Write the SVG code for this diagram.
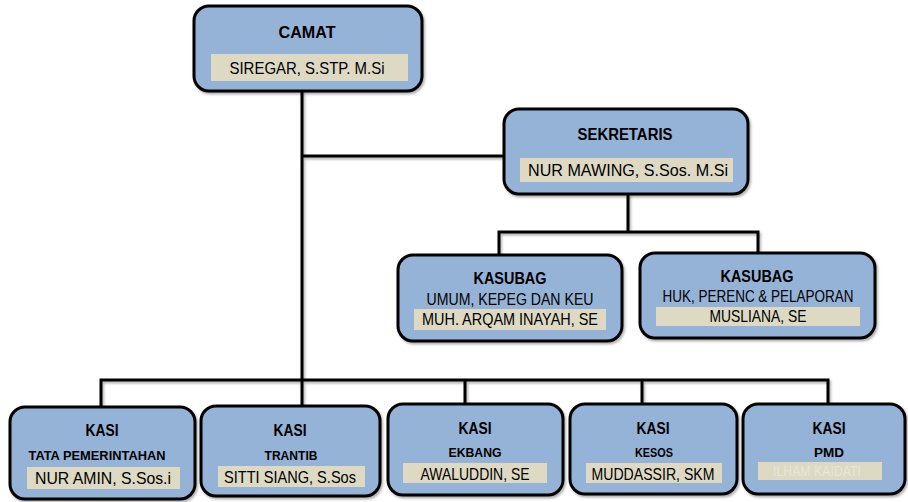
<svg xmlns="http://www.w3.org/2000/svg" width="908" height="502" viewBox="0 0 908 502">
<defs>
<filter id="sh" x="-5%" y="-5%" width="115%" height="120%">
<feDropShadow dx="1.5" dy="2" stdDeviation="1.2" flood-color="#000" flood-opacity="0.3"/>
</filter>
</defs>
<style>
.box{fill:#95b3d7;stroke:#000;stroke-width:3}
.nm{fill:#ddd9c3}
.t{font-family:"Liberation Sans",Arial,sans-serif;font-weight:bold;font-size:16.5px;fill:#000;text-anchor:middle}
.s{font-family:"Liberation Sans",Arial,sans-serif;font-weight:bold;font-size:13.5px;fill:#000;text-anchor:middle}
.n{font-family:"Liberation Sans",Arial,sans-serif;font-size:16.5px;fill:#000;text-anchor:middle}
.c{fill:none;stroke:#000;stroke-width:3}
</style>
<rect width="908" height="502" fill="#fff"/>
<g id="connectors" filter="url(#sh)">
<path class="c" d="M302,91 V405"/>
<path class="c" d="M302,156 H504"/>
<path class="c" d="M628,194 V232"/>
<path class="c" d="M499,254 V232 H758 V252"/>
<path class="c" d="M101,406 V380 H828 V403"/>
<path class="c" d="M465,380 V404"/>
<path class="c" d="M642,380 V403"/>
</g>
<g id="camat">
<rect class="box" x="194" y="6" width="228" height="85" rx="15" filter="url(#sh)"/>
<text class="t" x="307" y="38" textLength="57" lengthAdjust="spacingAndGlyphs">CAMAT</text>
<rect class="nm" x="211" y="54" width="197" height="27"/>
<text class="n" x="307" y="74" textLength="155" lengthAdjust="spacingAndGlyphs">SIREGAR, S.STP. M.Si</text>
</g>
<g id="sekretaris">
<rect class="box" x="504" y="109" width="244" height="85" rx="15" filter="url(#sh)"/>
<text class="t" x="625" y="140" textLength="95" lengthAdjust="spacingAndGlyphs">SEKRETARIS</text>
<rect class="nm" x="520" y="158" width="213" height="24"/>
<text class="n" x="628" y="176" textLength="200" lengthAdjust="spacingAndGlyphs">NUR MAWING, S.Sos. M.Si</text>
</g>
<g id="kasubag-umum">
<rect class="box" x="398" y="255" width="224" height="86" rx="15" filter="url(#sh)"/>
<text class="t" x="510" y="284" textLength="73" lengthAdjust="spacingAndGlyphs">KASUBAG</text>
<text class="n" x="510" y="305" textLength="167" lengthAdjust="spacingAndGlyphs">UMUM, KEPEG DAN KEU</text>
<rect class="nm" x="414" y="309" width="192" height="21"/>
<text class="n" x="510" y="325" textLength="176" lengthAdjust="spacingAndGlyphs">MUH. ARQAM INAYAH, SE</text>
</g>
<g id="kasubag-huk">
<rect class="box" x="640" y="253" width="235" height="85" rx="15" filter="url(#sh)"/>
<text class="t" x="757" y="282" textLength="73" lengthAdjust="spacingAndGlyphs">KASUBAG</text>
<text class="n" x="758" y="302" textLength="191" lengthAdjust="spacingAndGlyphs">HUK, PERENC &amp; PELAPORAN</text>
<rect class="nm" x="656" y="307" width="204" height="19"/>
<text class="n" x="758" y="322" textLength="97" lengthAdjust="spacingAndGlyphs">MUSLIANA, SE</text>
</g>
<g id="kasi-tapem">
<rect class="box" x="10" y="407" width="185" height="92" rx="15" filter="url(#sh)"/>
<text class="t" x="102" y="436" textLength="33" lengthAdjust="spacingAndGlyphs">KASI</text>
<text class="s" x="97" y="460" textLength="137" lengthAdjust="spacingAndGlyphs">TATA PEMERINTAHAN</text>
<rect class="nm" x="27" y="467" width="153" height="22"/>
<text class="n" x="103" y="484" textLength="136" lengthAdjust="spacingAndGlyphs">NUR AMIN, S.Sos.i</text>
</g>
<g id="kasi-trantib">
<rect class="box" x="201" y="406" width="179" height="90" rx="15" filter="url(#sh)"/>
<text class="t" x="290" y="436" textLength="33" lengthAdjust="spacingAndGlyphs">KASI</text>
<text class="s" x="291" y="460" textLength="53" lengthAdjust="spacingAndGlyphs">TRANTIB</text>
<rect class="nm" x="218" y="466" width="147" height="21"/>
<text class="n" x="290" y="483" textLength="132" lengthAdjust="spacingAndGlyphs">SITTI SIANG, S.Sos</text>
</g>
<g id="kasi-ekbang">
<rect class="box" x="388" y="404" width="175" height="91" rx="15" filter="url(#sh)"/>
<text class="t" x="475" y="434" textLength="33" lengthAdjust="spacingAndGlyphs">KASI</text>
<text class="s" x="475" y="457" textLength="53" lengthAdjust="spacingAndGlyphs">EKBANG</text>
<rect class="nm" x="403" y="463" width="144" height="20"/>
<text class="n" x="475" y="480" textLength="109" lengthAdjust="spacingAndGlyphs">AWALUDDIN, SE</text>
</g>
<g id="kasi-kesos">
<rect class="box" x="570" y="404" width="167" height="90" rx="15" filter="url(#sh)"/>
<text class="t" x="653" y="434" textLength="33" lengthAdjust="spacingAndGlyphs">KASI</text>
<text class="s" x="654" y="457" textLength="38" lengthAdjust="spacingAndGlyphs">KESOS</text>
<rect class="nm" x="586" y="463" width="136" height="20"/>
<text class="n" x="653" y="480" textLength="123" lengthAdjust="spacingAndGlyphs">MUDDASSIR, SKM</text>
</g>
<g id="kasi-pmd">
<rect class="box" x="743" y="404" width="162" height="90" rx="15" filter="url(#sh)"/>
<text class="t" x="829" y="434" textLength="33" lengthAdjust="spacingAndGlyphs">KASI</text>
<text class="s" x="829" y="457" textLength="30" lengthAdjust="spacingAndGlyphs">PMD</text>
<rect class="nm" x="758" y="462" width="124" height="18"/>
<text class="n" x="817" y="476" style="fill:#e9e6d8;font-size:14px" textLength="88" lengthAdjust="spacingAndGlyphs">ILHAM  KAIDATI</text>
</g>
</svg>
